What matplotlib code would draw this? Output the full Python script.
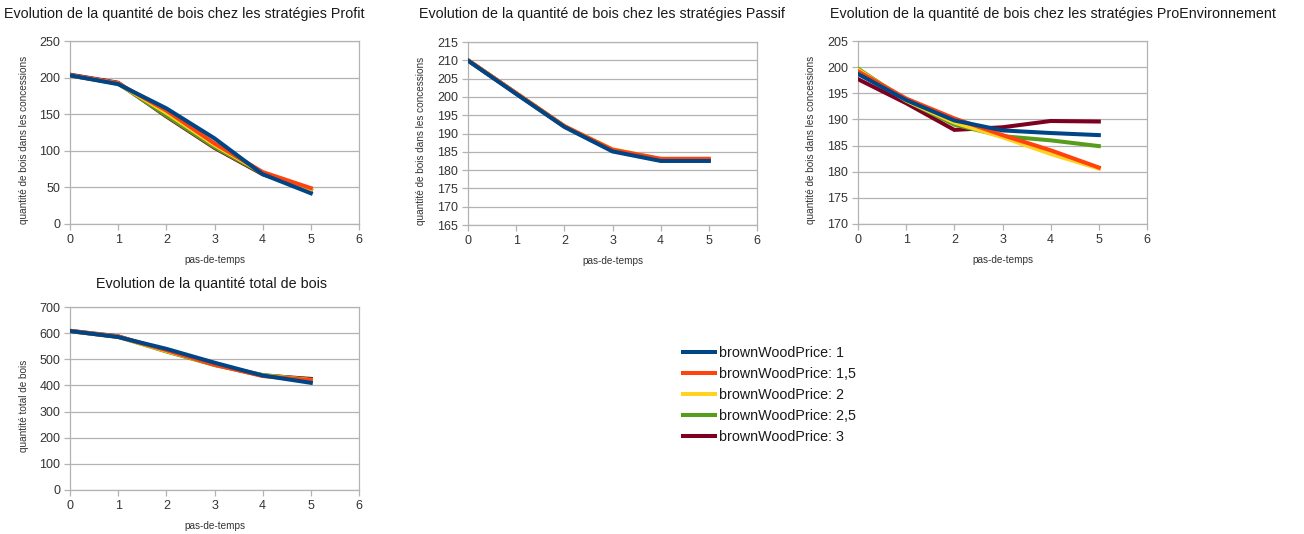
import matplotlib
matplotlib.use('Agg')
import matplotlib.pyplot as plt

plt.rcParams['font.family'] = ['Liberation Sans', 'DejaVu Sans']

steps = [0, 1, 2, 3, 4, 5]
price_labels = ['brownWoodPrice: 1', 'brownWoodPrice: 1,5', 'brownWoodPrice: 2',
                'brownWoodPrice: 2,5', 'brownWoodPrice: 3']
price_colors = ['#004586', '#ff420e', '#ffd320', '#579d1c', '#7e0021']

# one list per brownWoodPrice (1, 1.5, 2, 2.5, 3)
profit = [[203, 191, 158, 117, 68, 42],
          [203, 192, 155, 110, 71, 49],
          [203, 192, 152, 108, 70, 47],
          [203, 192, 148, 105, 69, 46],
          [204, 193, 147, 104, 68, 46]]

passif = [[209.9, 200.8, 191.8, 185.1, 182.5, 182.5],
          [210, 201, 192, 185.6, 183.1, 183.1],
          [210, 201, 192, 185.7, 183.0, 183.0],
          [210, 201, 192, 185.4, 182.8, 182.8],
          [210, 201, 192, 185.3, 182.7, 182.7]]

proenv = [[198.7, 193.7, 189.8, 187.9, 187.4, 187.0],
          [199.2, 194.0, 190.2, 187.0, 184.1, 180.8],
          [199.5, 193.6, 189.4, 186.6, 183.4, 180.6],
          [199.7, 193.6, 189.0, 186.8, 186.0, 184.9],
          [197.7, 193.1, 188.0, 188.5, 189.7, 189.6]]

total = [[608, 585, 540, 487, 438, 410],
         [608, 586, 535, 479, 436, 420],
         [608, 586, 532, 480, 438, 420],
         [608, 586, 530, 478, 440, 422],
         [609, 588, 532, 480, 438, 425]]

W, H = 1304, 534
fig = plt.figure(figsize=(W / 100, H / 100), dpi=100)

def px_axes(left, top, right, bottom):
    return fig.add_axes([left / W, 1 - bottom / H, (right - left) / W, (bottom - top) / H])

panels = [
    # data, rect(px), ylim, ystep, title, title pos(px), ylabel, ylabel x
    (profit, (70, 41, 359, 224), (0, 250), 50,
     'Evolution de la quantité de bois chez les stratégies Profit', (184, 14),
     'quantité de bois dans les concessions', 24),
    (passif, (468, 42, 757, 225), (165, 215), 5,
     'Evolution de la quantité de bois chez les stratégies Passif', (602, 14),
     'quantité de bois dans les concessions', 421),
    (proenv, (858, 41, 1147, 224), (170, 205), 5,
     'Evolution de la quantité de bois chez les stratégies ProEnvironnement', (1053, 14),
     'quantité de bois dans les concessions', 811),
    (total, (70, 307, 359, 490), (0, 700), 100,
     'Evolution de la quantité total de bois', (212, 284),
     'quantité total de bois', 24),
]

handles = None
for data, rect, ylim, ystep, title, tpos, ylabel, ylx in panels:
    ax = px_axes(*rect)
    hs = []
    for i in range(len(data) - 1, -1, -1):
        h, = ax.plot(steps, data[i], color=price_colors[i], lw=2.9,
                     solid_joinstyle='miter', zorder=3 + (len(data) - i))
        hs.append(h)
    hs = hs[::-1]
    if handles is None:
        handles = hs
    ax.set_xlim(0, 6)
    ax.set_ylim(*ylim)
    ax.set_xticks(range(0, 7))
    ax.set_yticks(range(ylim[0], ylim[1] + 1, ystep))
    ax.grid(axis='y', color='#b3b3b3', lw=0.9)
    ax.set_axisbelow(True)
    for s in ax.spines.values():
        s.set_color('#b3b3b3')
        s.set_linewidth(0.9)
    ax.tick_params(colors='#b3b3b3', labelcolor='#333333', labelsize=9,
                   length=4, width=0.9, pad=3)
    fig.text(tpos[0] / W, 1 - tpos[1] / H, title, ha='center', va='center',
             fontsize=10.3, color='#1a1a1a')
    cy = (rect[1] + rect[3]) / 2 + 7
    fig.text(ylx / W, 1 - cy / H, ylabel, rotation=90, ha='center', va='center',
             fontsize=7.2, color='#333333')
    cx = (rect[0] + rect[2]) / 2
    fig.text(cx / W, 1 - (rect[3] + 36) / H, 'pas-de-temps', ha='center', va='center',
             fontsize=7.2, color='#333333')

fig.legend(handles, price_labels, loc='upper left',
           bbox_to_anchor=(683 / W, 1 - 346 / H), frameon=False,
           fontsize=10.3, handlelength=2.25, handletextpad=0.25,
           labelspacing=0.49, borderaxespad=0, borderpad=0, labelcolor='#1a1a1a')

fig.savefig('out.png', dpi=100)
